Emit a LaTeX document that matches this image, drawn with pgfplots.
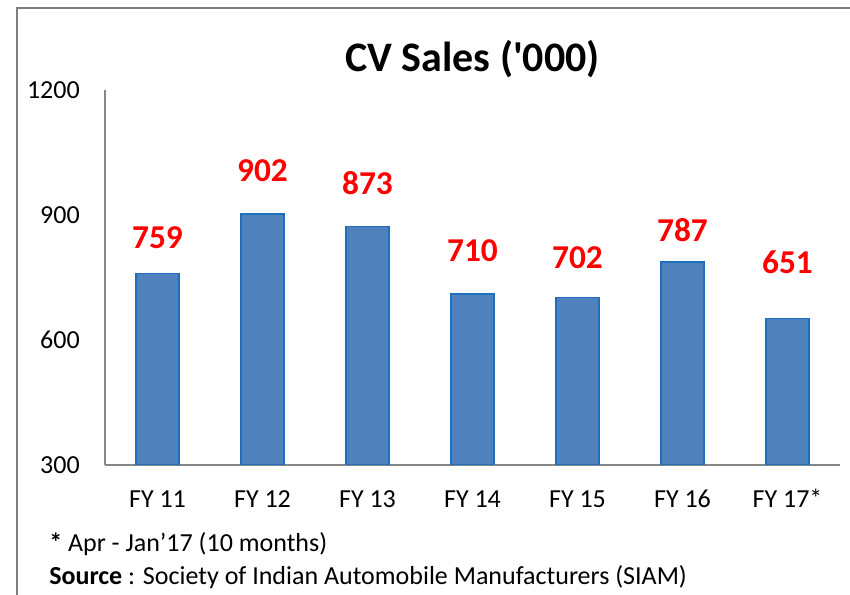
\documentclass[border=0pt]{standalone}
\usepackage{fontspec}
\setmainfont{Carlito}
\usepackage{pgfplots}
\usepackage{pgfplotstable}
\pgfplotsset{compat=1.18}

\definecolor{barblue}{HTML}{4F81BD}
\definecolor{baredge}{HTML}{1F6FBF}
\definecolor{axgray}{HTML}{868686}
\definecolor{framegray}{HTML}{7F7F7F}

% value and label lift (pt) per year
\pgfplotstableread{
x y off
0 759 27
1 902 32.25
2 873 32.25
3 710 32.25
4 702 30
5 787 24
6 651 42
}\cvsales

\begin{document}
\begin{tikzpicture}
\useasboundingbox (-78.75pt,-97.5pt) rectangle (558.75pt,348.75pt);
\draw[framegray, line width=1.1pt] (-66pt,-97.5pt) -- (-66pt,342.75pt) -- (558.75pt,342.75pt);
\begin{axis}[
    at={(0pt,0pt)}, anchor=south west,
    scale only axis,
    width=551.25pt, height=281.25pt,
    xmin=-0.5, xmax=6.5,
    ymin=300, ymax=1200,
    ytick={300,600,900,1200},
    xtick={0,...,6},
    xticklabels={FY 11,FY 12,FY 13,FY 14,FY 15,FY 16,FY 17*},
    ybar, bar width=32.25pt,
    axis x line*=bottom, axis y line*=left,
    axis line style={draw=axgray, line width=1.1pt, -},
    major tick length=0pt,
    /pgf/number format/1000 sep={},
    /pgf/number format/assume math mode=true,
    tick label style={font=\fontsize{19.5}{22}\selectfont, text=black},
    yticklabel style={anchor=east, inner sep=0pt, xshift=-18.75pt},
    xticklabel style={anchor=base, inner sep=0pt, yshift=-32.25pt},
    title={CV Sales (\textquotesingle000)},
    title style={font=\bfseries\fontsize{31.5}{36}\selectfont, at={(0.5,1)}, anchor=center, yshift=17.5pt},
    nodes near coords,
    visualization depends on={\thisrow{off} \as \laboff},
    every node near coord/.append style={anchor=center, yshift=\laboff pt,
        font=\bfseries\fontsize{25}{30}\selectfont, text=red},
]
\addplot[fill=barblue, draw=baredge, line width=1.1pt] table[x=x, y=y, meta=y] {\cvsales};
\end{axis}
\node[anchor=west, inner sep=0pt, font=\fontsize{19.5}{22}\selectfont] at (-42pt,-59.25pt) {\textbf{*} Apr - Jan’17 (10 months)};
\node[anchor=west, inner sep=0pt, font=\fontsize{19.5}{22}\selectfont] at (-42pt,-84pt) {\textbf{Source} : Society of Indian Automobile Manufacturers (SIAM)};
\end{tikzpicture}
\end{document}
